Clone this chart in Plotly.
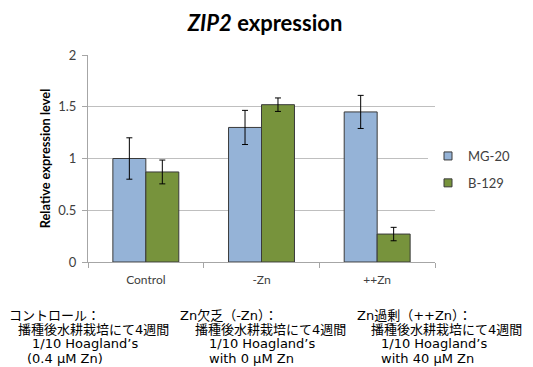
import plotly.graph_objects as go

categories = ["Control", "-Zn", "++Zn"]
series_names = ["MG-20", "B-129"]
mg20_values = [1.00, 1.30, 1.45]
mg20_errors = [0.20, 0.165, 0.16]
b129_values = [0.87, 1.52, 0.27]
b129_errors = [0.115, 0.065, 0.065]
y_ticks = [0, 0.5, 1, 1.5, 2]
y_tick_labels = ["0", "0.5", "1", "1.5", "2"]

colors = ["#95B3D7", "#77933C"]

# page body adds an 8px margin; positions below are screen pixels
OFF = 8
W, H = 533 - OFF, 367 - OFF
L, R, T, B = 88 - OFF, 435 - OFF, 55 - OFF, 262 - OFF


def px_x(px):
    return (px - OFF - L) / (R - L)


def px_y(py):
    return (B - (py - OFF)) / (B - T)


fig = go.Figure()
for name, vals, errs, col, grp in [
    (series_names[0], mg20_values, mg20_errors, colors[0], "a"),
    (series_names[1], b129_values, b129_errors, colors[1], "b"),
]:
    fig.add_trace(go.Bar(
        x=categories, y=vals, name=name, legendgroup=grp, showlegend=False,
        marker=dict(color=col, line=dict(color="#3A3A3A", width=1)),
        error_y=dict(type="data", array=errs, visible=True,
                     color="#000000", thickness=1, width=3),
    ))
    # legend entry with a small square swatch, like the original
    fig.add_trace(go.Scatter(
        x=[None], y=[None], mode="markers", name=name, legendgroup=grp,
        marker=dict(symbol="square", size=8, color=col,
                    line=dict(color="#3A3A3A", width=1)),
    ))

notes = [
    # (text, x_px, y_px)
    ("コントロール：", 8, 315),
    ("播種後水耕栽培にて4週間", 17, 329),
    ("1/10 Hoagland’s", 31, 343),
    ("(0.4 μM Zn)", 26, 358),
    ("Zn欠乏（-Zn）：", 179, 315),
    ("播種後水耕栽培にて4週間", 194, 329),
    ("1/10 Hoagland’s", 208, 343),
    ("with 0 μM Zn", 208, 358),
    ("Zn過剰（++Zn）：", 356, 315),
    ("播種後水耕栽培にて4週間", 370, 329),
    ("1/10 Hoagland’s", 380, 343),
    ("with 40 μM Zn", 380, 358),
]
annotations = []
for text, xp, yp in notes:
    annotations.append(dict(
        text=text, xref="paper", yref="paper", x=px_x(xp), y=px_y(yp),
        xanchor="left", yanchor="middle", showarrow=False, borderpad=0,
        font=dict(family="DejaVu Sans, Noto Sans CJK JP", size=13, color="#000000"),
    ))

fig.update_layout(
    width=W, height=H,
    margin=dict(l=L, r=W - R, t=T, b=H - B),
    paper_bgcolor="white", plot_bgcolor="white",
    barmode="group", bargap=0.43, bargroupgap=0,
    title=dict(text="<b><i>ZIP2</i> expression</b>", x=(265 - OFF) / W, xref="container",
               xanchor="center", y=1 - (23 - OFF) / H, yref="container", yanchor="middle",
               font=dict(family="Lato", size=22, color="#000000")),
    font=dict(family="Lato", size=12, color="#404040"),
    legend=dict(x=px_x(428), y=px_y(141), xanchor="left", yanchor="top",
                traceorder="grouped", tracegroupgap=7,
                font=dict(family="Lato", size=13, color="#404040"),
                itemwidth=30),
    annotations=annotations,
    xaxis=dict(showline=True, linecolor="#A6A6A6", linewidth=1,
               ticks="outside", tickson="boundaries", ticklen=5,
               tickcolor="#A6A6A6", showgrid=False, ticklabelstandoff=7,
               tickfont=dict(family="Lato", size=12, color="#404040")),
    yaxis=dict(range=[0, 2], tickvals=y_ticks, ticktext=y_tick_labels,
               showline=True, linecolor="#A6A6A6", linewidth=1,
               ticks="outside", ticklen=5, tickcolor="#A6A6A6",
               ticklabelstandoff=3,
               showgrid=True, gridcolor="#BFBFBF", gridwidth=1, zeroline=False,
               tickfont=dict(family="Lato", size=13, color="#404040"),
               title=dict(text="<b>Relative expression level</b>", standoff=4,
                          font=dict(family="Lato", size=12.8, color="#000000"))),
)

fig.write_html("out.html")
